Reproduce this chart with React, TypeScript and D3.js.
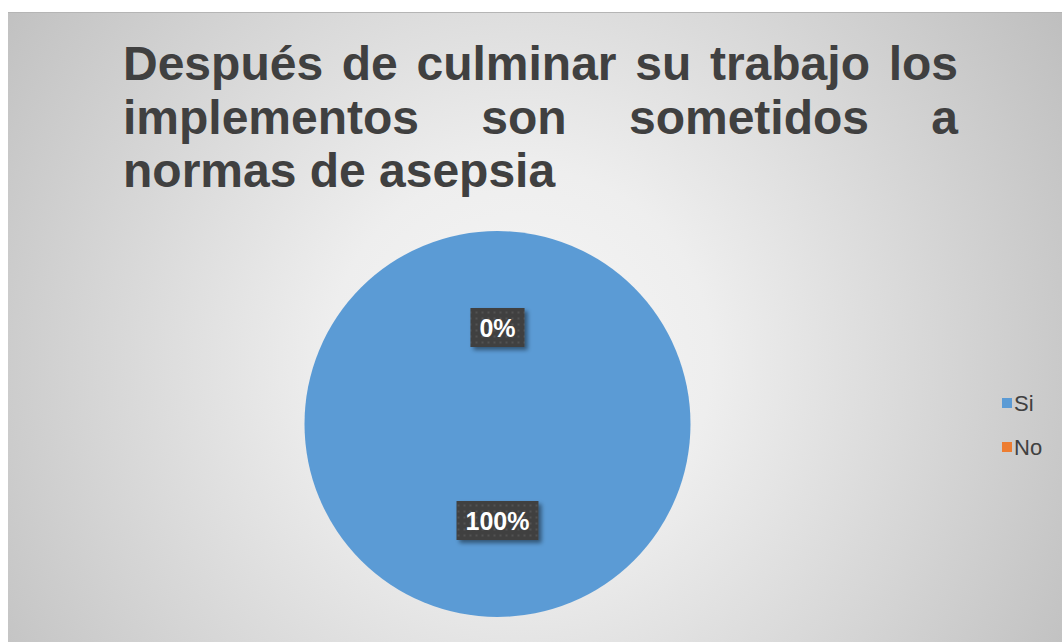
import React, { useEffect, useRef } from "react";
import * as d3 from "d3";

const categories = ["Si", "No"];
const values = [100, 0];
const labels = ["100%", "0%"];
const colors = ["#5B9BD5", "#ED7D31"];
const titleLines = [
  "Después de culminar su trabajo los",
  "implementos son sometidos a",
  "normas de asepsia",
];

export default function App() {
  const ref = useRef<SVGSVGElement>(null);

  useEffect(() => {
    const svg = d3.select(ref.current);
    svg.selectAll("*").remove();
    const W = 1062, H = 642;

    const defs = svg.append("defs");
    const rg = defs.append("radialGradient").attr("id", "bg")
      .attr("gradientUnits", "userSpaceOnUse")
      .attr("cx", 520).attr("cy", 360).attr("r", 640);
    rg.append("stop").attr("offset", 0).attr("stop-color", "#f6f6f6");
    rg.append("stop").attr("offset", 0.3).attr("stop-color", "#eeeeee");
    rg.append("stop").attr("offset", 1).attr("stop-color", "#bfbfbf");

    const pat = defs.append("pattern").attr("id", "dots")
      .attr("patternUnits", "userSpaceOnUse").attr("width", 6).attr("height", 6);
    pat.append("rect").attr("width", 6).attr("height", 6).attr("fill", "#404040");
    pat.append("circle").attr("cx", 3).attr("cy", 3).attr("r", 1).attr("fill", "#585858");

    const sh = defs.append("filter").attr("id", "shadow")
      .attr("x", "-30%").attr("y", "-30%").attr("width", "160%").attr("height", "160%");
    sh.append("feDropShadow").attr("dx", 3).attr("dy", 3).attr("stdDeviation", 2)
      .attr("flood-color", "#000").attr("flood-opacity", 0.45);

    svg.append("rect").attr("width", W).attr("height", H).attr("fill", "#ffffff");
    svg.append("rect").attr("x", 8).attr("y", 12).attr("width", W).attr("height", H)
      .attr("fill", "url(#bg)");
    svg.append("line").attr("x1", 8).attr("x2", W).attr("y1", 12.5).attr("y2", 12.5)
      .attr("stroke", "#b5b5b5").attr("stroke-width", 1);

    // Title (justified)
    const font = "bold 48px 'Liberation Sans', Arial, sans-serif";
    const left = 123, right = 958;
    const baselines = [80, 133.5, 187];
    const tg = svg.append("g").style("font", font).attr("fill", "#404040");
    titleLines.forEach((line, i) => {
      const words = line.split(" ");
      const texts = words.map((w) => tg.append("text").attr("y", baselines[i]).text(w));
      const widths = texts.map((t) => (t.node() as SVGTextElement).getComputedTextLength());
      const total = widths.reduce((a, b) => a + b, 0);
      const justify = i < titleLines.length - 1;
      const gap = justify ? (right - left - total) / (words.length - 1) : 13.3;
      let x = left;
      texts.forEach((t, j) => {
        t.attr("x", x);
        x += widths[j] + gap;
      });
    });

    // Pie
    const cx = 497.5, cy = 424, r = 193;
    const pie = d3.pie<number>().sort(null).value((d) => d);
    const arcs = pie(values);
    const arc = d3.arc<d3.PieArcDatum<number>>().innerRadius(0).outerRadius(r);
    const lab = d3.arc<d3.PieArcDatum<number>>().innerRadius(0).outerRadius(r);
    const pg = svg.append("g").attr("transform", `translate(${cx},${cy})`);
    pg.selectAll("path").data(arcs).enter().append("path")
      .attr("d", (d) => arc(d) as string)
      .attr("fill", (_d, i) => colors[i]);

    // Labels
    const lg = pg.append("g");
    arcs.forEach((d, i) => {
      const [lx, ly] = lab.centroid(d);
      const g = lg.append("g").attr("transform", `translate(${lx},${ly})`);
      const t = g.append("text").attr("text-anchor", "middle").attr("dy", "0.36em")
        .style("font", "bold 25px 'Liberation Sans', Arial, sans-serif")
        .attr("fill", "#ffffff").text(labels[i]);
      const w = (t.node() as SVGTextElement).getComputedTextLength();
      const bw = w + 18, bh = 39;
      g.insert("rect", "text").attr("x", -bw / 2).attr("y", -bh / 2)
        .attr("width", bw).attr("height", bh)
        .attr("fill", "url(#dots)").attr("filter", "url(#shadow)");
    });

    // Legend
    const legY = [403, 447];
    const leg = svg.append("g");
    categories.forEach((c, i) => {
      leg.append("rect").attr("x", 1002).attr("y", legY[i] - 5).attr("width", 10).attr("height", 10)
        .attr("fill", colors[i]);
      leg.append("text").attr("x", 1014).attr("y", legY[i]).attr("dy", "0.36em")
        .style("font", "22px 'Liberation Sans', Arial, sans-serif")
        .attr("fill", "#404040").text(c);
    });
  }, []);

  return (
    <svg ref={ref} width={1062} height={642}
      style={{ position: "absolute", left: 0, top: 0, display: "block" }} />
  );
}
